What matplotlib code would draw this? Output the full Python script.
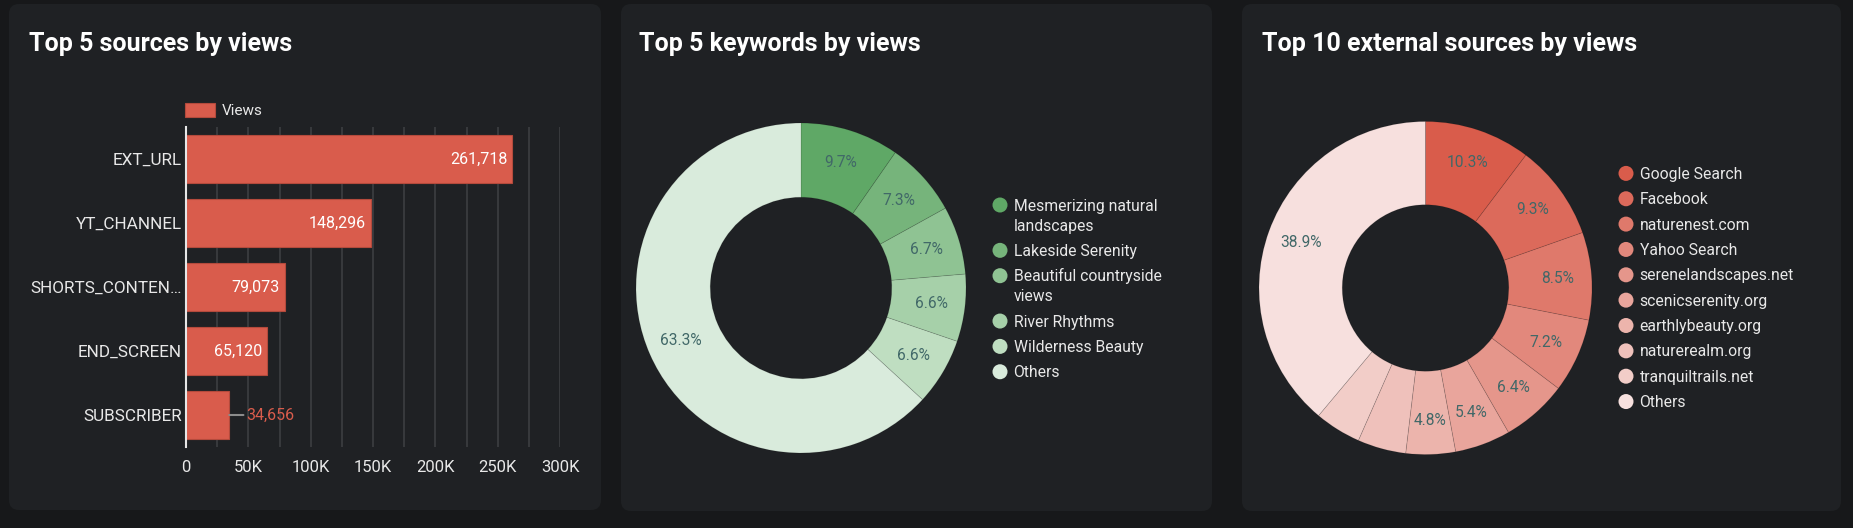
import matplotlib
matplotlib.use('Agg')
import matplotlib.pyplot as plt
from matplotlib.patches import FancyBboxPatch, Circle

plt.rcParams['font.family'] = ['Roboto', 'DejaVu Sans']

W, H, DPI = 1853, 528, 100

# ---------------- data ----------------
source_names = ['EXT_URL', 'YT_CHANNEL', 'SHORTS_CONTEN…', 'END_SCREEN', 'SUBSCRIBER']
source_views = [261718, 148296, 79073, 65120, 34656]
x_tick_values = [0, 50000, 100000, 150000, 200000, 250000, 300000]
x_tick_labels = ['0', '50K', '100K', '150K', '200K', '250K', '300K']

keyword_labels = ['Mesmerizing natural\nlandscapes', 'Lakeside Serenity',
                  'Beautiful countryside\nviews', 'River Rhythms',
                  'Wilderness Beauty', 'Others']
keyword_share = [9.7, 7.3, 6.7, 6.6, 6.6, 63.3]
keyword_colors = ['#5fa866', '#76b47b', '#8fc393', '#a6d0a9', '#bfdec1', '#d9ebdc']

ext_labels = ['Google Search', 'Facebook', 'naturenest.com', 'Yahoo Search',
              'serenelandscapes.net', 'scenicserenity.org', 'earthlybeauty.org',
              'naturerealm.org', 'tranquiltrails.net', 'Others']
ext_share = [10.3, 9.3, 8.5, 7.2, 6.4, 5.4, 4.8, 4.7, 4.5, 38.9]
ext_colors = ['#d95c4b', '#dc6a5b', '#df796b', '#e2887c', '#e5968b',
              '#e9a59c', '#ecb4ac', '#efc1bb', '#f2cdc8', '#f7e0de']

# ---------------- style ----------------
BG = '#17181a'
CARD = '#1f2124'
TXT = '#e8e8e8'
BAR = '#d95c4c'
PCT = '#416868'

fig = plt.figure(figsize=(W / DPI, H / DPI), dpi=DPI, facecolor=BG)

bg = fig.add_axes([0, 0, 1, 1], zorder=-5)
bg.set_xlim(0, W)
bg.set_ylim(H, 0)
bg.axis('off')

cards = [(9, 4, 601, 510), (621, 4, 1212, 511), (1242, 4, 1841, 511)]
for x0, y0, x1, y1 in cards:
    bg.add_patch(FancyBboxPatch((x0, y0), x1 - x0, y1 - y0,
                                boxstyle='round,pad=0,rounding_size=10',
                                fc=CARD, ec='none'))

titles = [(29, 'Top 5 sources by views'), (639, 'Top 5 keywords by views'),
          (1262, 'Top 10 external sources by views')]
for x, t in titles:
    bg.text(x, 50.5, t, fontsize=18, fontweight='bold', color='white', va='baseline')


def px_axes(x0, y0, x1, y1):
    return fig.add_axes([x0 / W, (H - y1) / H, (x1 - x0) / W, (y1 - y0) / H])


# ---------------- bar chart ----------------
ax1 = px_axes(186, 127, 560, 447)
ax1.set_facecolor('none')
ypos = list(range(len(source_names)))
bars = ax1.barh(ypos, source_views, height=0.75, color=BAR, edgecolor='#b44a3c',
                linewidth=0.8, label='Views', zorder=3)
ax1.set_xlim(0, 300000)
ax1.set_ylim(len(source_names) - 0.5, -0.5)
ax1.set_xticks(x_tick_values)
ax1.set_xticklabels(x_tick_labels)
ax1.set_xticks(range(0, 300001, 25000), minor=True)
ax1.grid(which='both', axis='x', color='#3c3e41', linewidth=1.2, zorder=0)
ax1.set_yticks(ypos)
ax1.set_yticklabels(source_names)
ax1.tick_params(axis='x', which='both', length=0, pad=9, labelsize=12, labelcolor=TXT)
ax1.tick_params(axis='y', length=0, pad=3, labelsize=12.3, labelcolor=TXT)
for s in ['top', 'right', 'bottom']:
    ax1.spines[s].set_visible(False)
ax1.spines['left'].set_color('#e6e6e6')
ax1.spines['left'].set_linewidth(1.5)
ax1.spines['left'].set_zorder(4)

for rect, v in zip(bars, source_views):
    xe = rect.get_x() + rect.get_width()
    yc = rect.get_y() + rect.get_height() / 2
    if v > 50000:
        ax1.annotate(f'{v:,}', (xe, yc), xytext=(-5, 0), textcoords='offset pixels',
                     ha='right', va='center', fontsize=11.5, color='white', zorder=5)
    else:
        ax1.annotate(f'{v:,}', (xe, yc), xytext=(17, 0), textcoords='offset pixels',
                     ha='left', va='center', fontsize=11.5, color=BAR, zorder=5,
                     arrowprops=dict(arrowstyle='-', color='#8c8c8c', lw=1.5,
                                     shrinkA=0, shrinkB=0))

leg = ax1.legend(loc='center left', bbox_to_anchor=(185 / W, 1 - 110.5 / H),
                 bbox_transform=fig.transFigure, frameon=False, fontsize=11,
                 handlelength=1.95, handleheight=1.0, handletextpad=0.45,
                 borderpad=0, borderaxespad=0)
for t in leg.get_texts():
    t.set_color(TXT)


# ---------------- donuts ----------------
def pct_fmt(values, min_show=0.0):
    it = iter(values)

    def f(_p):
        v = next(it)
        return f'{v:.1f}%' if v >= min_show else ''
    return f


def donut(cx, cy, r, shares, colors, hole):
    ax = px_axes(cx - r, cy - r, cx + r, cy + r)
    ax.pie(shares, colors=colors, startangle=90, counterclock=False, radius=1,
           wedgeprops=dict(width=1 - hole, edgecolor=(0, 0, 0, 0.12), linewidth=0.6),
           autopct=pct_fmt(shares, 4.75), pctdistance=0.795,
           textprops=dict(color=PCT, fontsize=11.2))
    ax.set_xlim(-1, 1)
    ax.set_ylim(-1, 1)
    ax.axis('off')
    return ax


donut(801, 288, 165, keyword_share, keyword_colors, 0.55)
donut(1425.5, 288, 166.5, ext_share, ext_colors, 0.50)


def legend(x_marker, y0, labels, colors, pitch=25.35, wrap=20):
    y = y0
    for lab, col in zip(labels, colors):
        bg.add_patch(Circle((x_marker, y), 7.5, fc=col, ec='none'))
        for k, line in enumerate(lab.split('\n')):
            bg.text(x_marker + 13.5, y + 5.5 + k * wrap, line, fontsize=11.3,
                    color=TXT, va='baseline', ha='left')
        y += pitch + wrap * (lab.count('\n'))


legend(1000, 205, keyword_labels, keyword_colors)
legend(1626, 173.4, ext_labels, ext_colors)

fig.savefig('out.png', dpi=DPI, facecolor=BG)
